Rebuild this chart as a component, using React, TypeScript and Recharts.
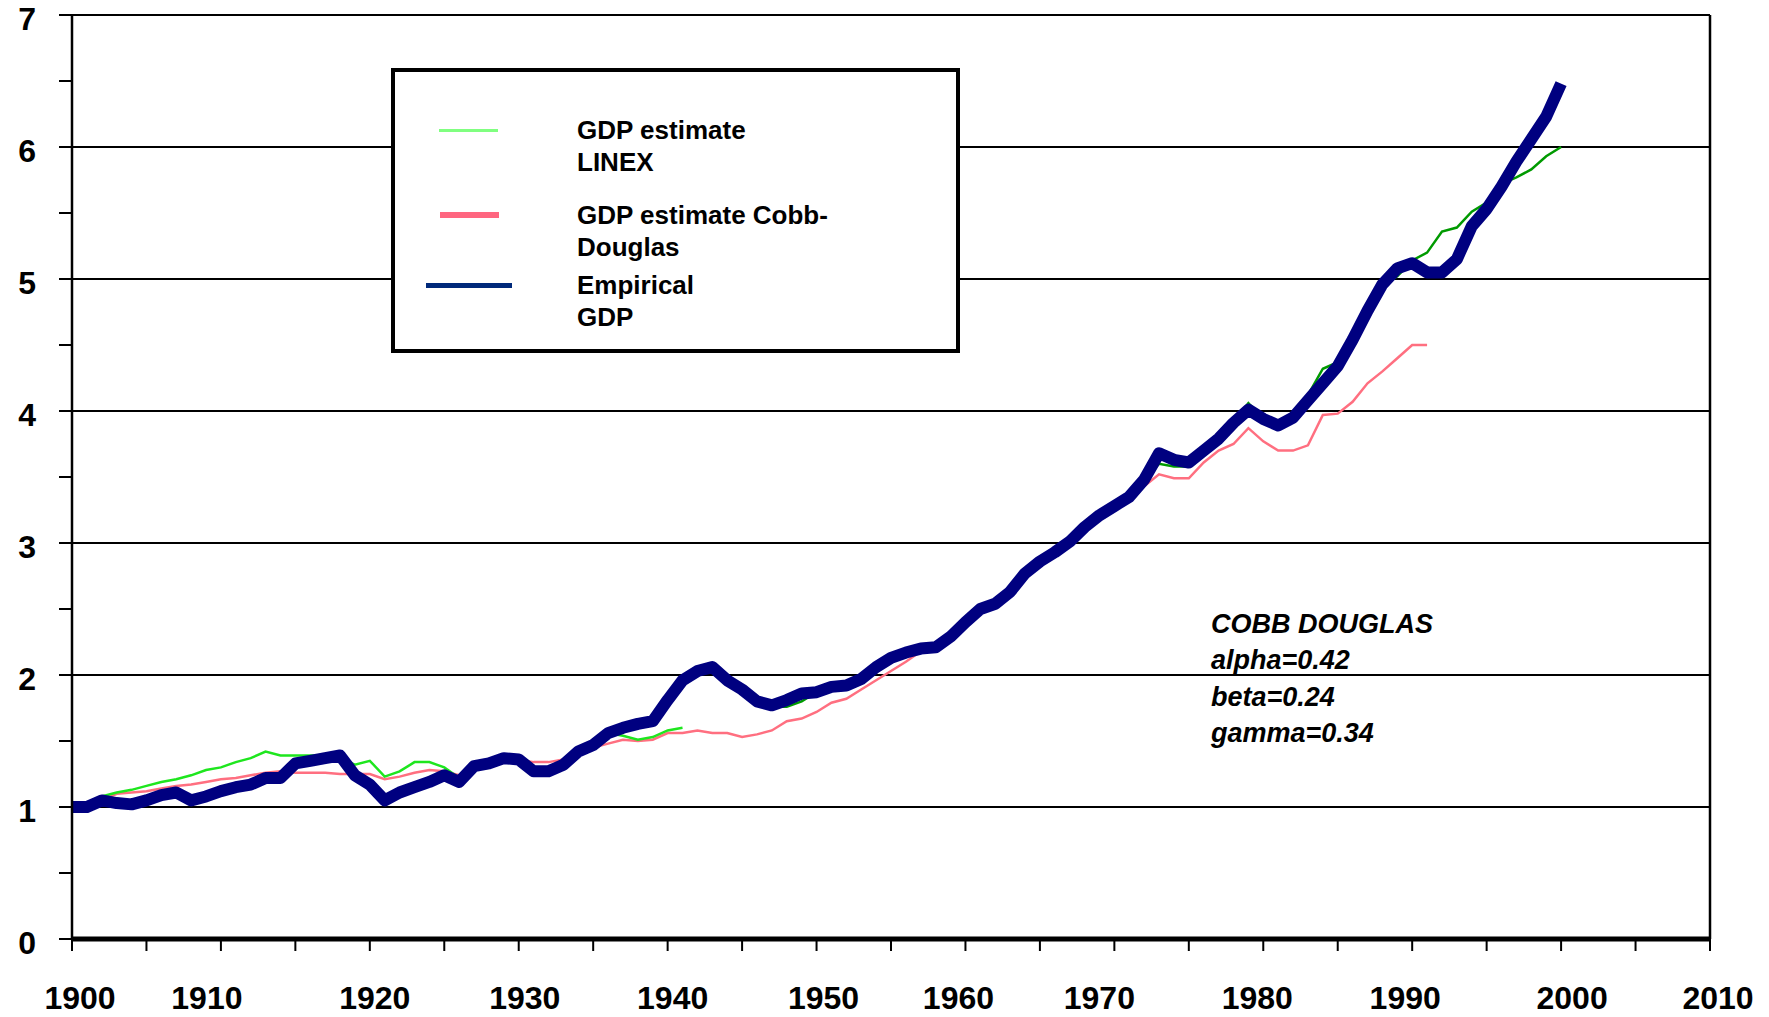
import React from 'react';
import { CartesianGrid, Legend, Line, LineChart, ReferenceLine, XAxis, YAxis } from 'recharts';

document.body.style.margin = '0';

const FONT = '"Liberation Sans", Arial, sans-serif';

const startYear = 1900;
const linexLateStart = 1942;

// Empirical GDP, 1900-2000
const empirical = [
  1.0, 1.0, 1.05, 1.03, 1.02, 1.05, 1.09, 1.11, 1.05, 1.08,
  1.12, 1.15, 1.17, 1.22, 1.22, 1.33, 1.35, 1.37, 1.39, 1.24,
  1.17, 1.05, 1.11, 1.15, 1.19, 1.24, 1.19, 1.31, 1.33, 1.37,
  1.36, 1.27, 1.27, 1.32, 1.42, 1.47, 1.56, 1.6, 1.63, 1.65,
  1.81, 1.96, 2.03, 2.06, 1.96, 1.89, 1.8, 1.77, 1.81, 1.86,
  1.87, 1.91, 1.92, 1.97, 2.06, 2.13, 2.17, 2.2, 2.21, 2.29,
  2.4, 2.5, 2.54, 2.63, 2.77, 2.86, 2.93, 3.01, 3.12, 3.21,
  3.28, 3.35, 3.48, 3.68, 3.63, 3.61, 3.7, 3.79, 3.91, 4.01,
  3.94, 3.89, 3.95, 4.08, 4.21, 4.34, 4.54, 4.76, 4.96, 5.08,
  5.12, 5.05, 5.05, 5.15, 5.4, 5.53, 5.7, 5.89, 6.06, 6.23,
  6.48,
];

// LINEX estimate, 1900-1941
const linexEarly = [
  1.0, 1.01, 1.08, 1.11, 1.13, 1.16, 1.19, 1.21, 1.24, 1.28,
  1.3, 1.34, 1.37, 1.42, 1.39, 1.39, 1.39, 1.39, 1.37, 1.32,
  1.35, 1.23, 1.27, 1.34, 1.34, 1.3, 1.22, 1.29, 1.32, 1.36,
  1.36, 1.3, 1.29, 1.33, 1.41, 1.47, 1.56, 1.54, 1.51, 1.53,
  1.58, 1.6,
];

// LINEX estimate, 1942-2000
const linexLate = [
  2.03, 2.05, 1.95, 1.88, 1.79, 1.76, 1.76, 1.8,
  1.87, 1.91, 1.92, 1.97, 2.06, 2.13, 2.17, 2.2, 2.21, 2.29,
  2.4, 2.5, 2.54, 2.63, 2.77, 2.86, 2.93, 3.01, 3.12, 3.21,
  3.28, 3.35, 3.47, 3.6, 3.58, 3.58, 3.7, 3.8, 3.92, 4.06,
  3.94, 3.9, 3.96, 4.12, 4.32, 4.37, 4.53, 4.75, 4.95, 5.02,
  5.14, 5.2, 5.36, 5.39, 5.51, 5.58, 5.72, 5.77, 5.83, 5.93,
  6.0,
];

// Cobb-Douglas estimate, 1900-1991
const cobbDouglas = [
  1.0, 1.0, 1.05, 1.1, 1.11, 1.12, 1.14, 1.16, 1.17, 1.19,
  1.21, 1.22, 1.24, 1.26, 1.27, 1.26, 1.26, 1.26, 1.25, 1.25,
  1.25, 1.21, 1.23, 1.26, 1.28, 1.27, 1.24, 1.3, 1.32, 1.35,
  1.36, 1.34, 1.34, 1.36, 1.4, 1.45, 1.48, 1.51, 1.5, 1.51,
  1.56, 1.56, 1.58, 1.56, 1.56, 1.53, 1.55, 1.58, 1.65, 1.67,
  1.72, 1.79, 1.82, 1.89, 1.96, 2.03, 2.1, 2.18, 2.22, 2.29,
  2.4, 2.5, 2.55, 2.62, 2.76, 2.85, 2.92, 3.0, 3.1, 3.2,
  3.27, 3.33, 3.43, 3.52, 3.49, 3.49, 3.61, 3.7, 3.75, 3.87,
  3.77, 3.7, 3.7, 3.74, 3.97, 3.98, 4.07, 4.21, 4.3, 4.4,
  4.5, 4.5,
];

const xTicks = [
  1900, 1905, 1910, 1915, 1920, 1925, 1930, 1935, 1940, 1945, 1950, 1955,
  1960, 1965, 1970, 1975, 1980, 1985, 1990, 1995, 2000, 2005, 2010,
];
const yTicks = [0, 0.5, 1, 1.5, 2, 2.5, 3, 3.5, 4, 4.5, 5, 5.5, 6, 6.5, 7];
const gridValues = [1, 2, 3, 4, 5, 6, 7];

const legendItems = [
  { key: 'linex', lines: ['GDP estimate', 'LINEX'] },
  { key: 'cobb', lines: ['GDP estimate Cobb-', 'Douglas'] },
  { key: 'empirical', lines: ['Empirical', 'GDP'] },
];

const noteLines = ['COBB DOUGLAS', 'alpha=0.42', 'beta=0.24', 'gamma=0.34'];

const data = empirical.map((value, i) => {
  const year = startYear + i;
  const lateIdx = year - linexLateStart;
  return {
    year,
    empirical: value,
    linexEarly: linexEarly[i],
    linexLate: lateIdx >= 0 ? linexLate[lateIdx] : undefined,
    cobbDouglas: cobbDouglas[i],
  };
});

// the original's year labels sit a little off their ticks
const labelNudge: Record<number, number> = {
  1900: 8, 1910: -14, 1920: 5, 1930: 6, 1940: 5, 1950: 7,
  1960: -7, 1970: -15, 1980: -6, 1990: -7, 2000: 11, 2010: 8,
};

const YearTick = (props: any) => {
  const { x, y, payload } = props;
  const v = payload.value as number;
  if (v % 10 !== 0) return null;
  return (
    <text
      x={x + (labelNudge[v] || 0)}
      y={y}
      dy="0.71em"
      textAnchor="middle"
      fill="#000"
      fontSize={32}
      fontWeight="bold"
      fontFamily={FONT}
    >
      {v}
    </text>
  );
};

// swatch placement inside the legend box (relative to its padding edge)
const swatches: Record<string, { left: number; width: number; h: number; color: string }> = {
  linex: { left: 44, width: 59, h: 3, color: '#80ff80' },
  cobb: { left: 45, width: 59, h: 6, color: '#ff6680' },
  empirical: { left: 31, width: 86, h: 5, color: '#00297a' },
};
const itemTops = [42, 127, 197];

const LegendBox = () => (
  <div
    style={{
      position: 'relative',
      boxSizing: 'border-box',
      width: 569,
      height: 285,
      border: '4px solid #000',
      background: '#fff',
      fontFamily: FONT,
      fontWeight: 'bold',
      fontSize: 26,
      lineHeight: '32px',
      color: '#000',
    }}
  >
    {legendItems.map((item, i) => {
      const sw = swatches[item.key];
      return (
        <React.Fragment key={item.key}>
          <div
            style={{
              position: 'absolute',
              left: sw.left,
              top: itemTops[i] + 16 - sw.h / 2,
              width: sw.width,
              height: sw.h,
              background: sw.color,
            }}
          />
          <div style={{ position: 'absolute', left: 182, top: itemTops[i], whiteSpace: 'nowrap' }}>
            {item.lines.map((l) => (
              <div key={l}>{l}</div>
            ))}
          </div>
        </React.Fragment>
      );
    })}
  </div>
);

export default function App() {
  return (
    <div style={{ position: 'relative', width: 1769, height: 1017, overflow: 'hidden', background: '#fff' }}>
      <LineChart
        width={1769}
        height={1017}
        data={data}
        margin={{ top: 15, right: 59, left: 0, bottom: 0 }}
      >
        <CartesianGrid
          horizontal
          vertical={false}
          horizontalValues={gridValues}
          stroke="#000"
          strokeWidth={2}
        />
        <XAxis
          dataKey="year"
          type="number"
          domain={[1900, 2010]}
          ticks={xTicks}
          height={78}
          tickSize={12}
          tickMargin={35}
          axisLine={{ stroke: '#000', strokeWidth: 5 }}
          tickLine={{ stroke: '#000', strokeWidth: 2 }}
          tick={<YearTick />}
          interval={0}
        />
        <YAxis
          type="number"
          domain={[0, 7]}
          ticks={yTicks}
          tickFormatter={(v: number) => (Number.isInteger(v) ? String(v) : '')}
          width={72}
          tickSize={13}
          tickMargin={23}
          axisLine={{ stroke: '#000', strokeWidth: 2.5 }}
          tickLine={{ stroke: '#000', strokeWidth: 2 }}
          tick={{ fill: '#000', fontSize: 32, fontWeight: 'bold', fontFamily: FONT, dy: 4 }}
          interval={0}
        />
        <ReferenceLine x={2010} stroke="#000" strokeWidth={2.5} />
        <Legend
          layout="vertical"
          align="center"
          verticalAlign="middle"
          content={() => <LegendBox />}
          wrapperStyle={{ left: 391, top: 68, right: 'auto', bottom: 'auto', width: 569, height: 285 }}
        />
        <Line
          dataKey="cobbDouglas"
          name="GDP estimate Cobb-Douglas"
          type="linear"
          stroke="#ff6f80"
          strokeWidth={2.5}
          dot={false}
          activeDot={false}
          isAnimationActive={false}
        />
        <Line
          dataKey="linexEarly"
          name="GDP estimate LINEX"
          type="linear"
          stroke="#1ee61e"
          strokeWidth={2.5}
          dot={false}
          activeDot={false}
          isAnimationActive={false}
        />
        <Line
          dataKey="linexLate"
          name="GDP estimate LINEX (post-1941)"
          type="linear"
          stroke="#009a00"
          strokeWidth={2.5}
          dot={false}
          activeDot={false}
          legendType="none"
          isAnimationActive={false}
        />
        <Line
          dataKey="empirical"
          name="Empirical GDP"
          type="linear"
          stroke="#000080"
          strokeWidth={12}
          strokeLinejoin="round"
          dot={false}
          activeDot={false}
          isAnimationActive={false}
        />
      </LineChart>
      <div
        style={{
          position: 'absolute',
          left: 1211,
          top: 606,
          fontFamily: FONT,
          fontWeight: 'bold',
          fontStyle: 'italic',
          fontSize: 27,
          lineHeight: '36.3px',
          color: '#000',
          whiteSpace: 'nowrap',
        }}
      >
        {noteLines.map((l) => (
          <div key={l}>{l}</div>
        ))}
      </div>
    </div>
  );
}
